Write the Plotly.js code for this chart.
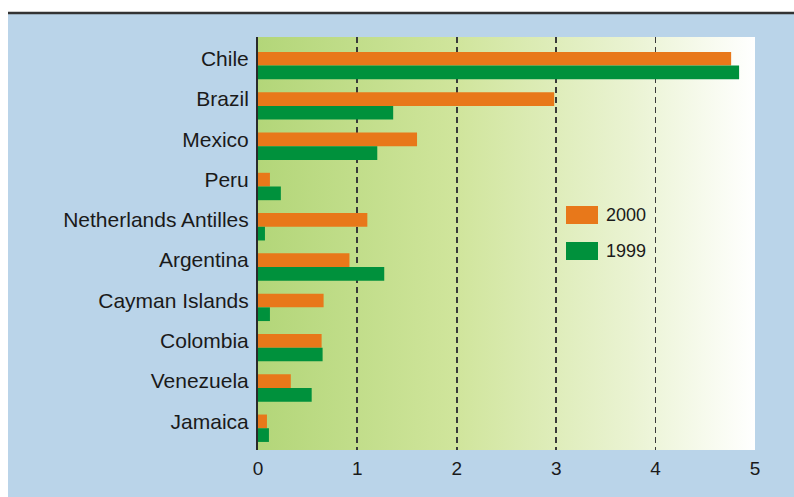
<!DOCTYPE html>
<html><head><meta charset="utf-8">
<script src="https://cdn.plot.ly/plotly-3.0.1.min.js"></script>
<style>html,body{margin:0;padding:0;background:#fff}#chart{width:794px;height:497px}</style>
</head><body><div id="chart"></div>
<script>
const countries = ['Chile','Brazil','Mexico','Peru','Netherlands Antilles','Argentina','Cayman Islands','Colombia','Venezuela','Jamaica'];
const values2000 = [4.76,2.98,1.6,0.12,1.1,0.92,0.66,0.64,0.33,0.09];
const values1999 = [4.84,1.36,1.2,0.23,0.07,1.27,0.12,0.65,0.54,0.11];
const seriesNames = ['2000','1999'];
const seriesColors = ['#e8781a','#00913c'];
const xTicks = [0,1,2,3,4,5];

const W=794,H=497,L=258,R=39,T=37,B=47;
const pw=W-L-R, ph=H-T-B;
const px = x => (x-L)/pw;
const py = y => (H-B-y)/ph;
const FONT = '"Liberation Sans", Arial, sans-serif';

const gradSvg = '<svg xmlns="http://www.w3.org/2000/svg" width="100" height="10" preserveAspectRatio="none"><defs><linearGradient id="g" x1="0" y1="0" x2="1" y2="0"><stop offset="0" stop-color="#b3d679"/><stop offset="0.4" stop-color="#d0e59c"/><stop offset="0.75" stop-color="#eaf3d2"/><stop offset="1" stop-color="#ffffff"/></linearGradient></defs><rect width="100" height="10" fill="url(#g)"/></svg>';
const grad = 'data:image/svg+xml;charset=utf-8,' + encodeURIComponent(gradSvg);

const seriesValues = [values2000, values1999];
const traces = seriesNames.map((n,i)=>({
  type:'bar', orientation:'h', name:n, y:countries, x:seriesValues[i],
  marker:{color:seriesColors[i], line:{width:0}}, showlegend:false, hoverinfo:'skip'
}));

const shapes = [
  {type:'rect', xref:'paper', yref:'paper', x0:px(0), x1:px(W), y0:py(13), y1:py(0), fillcolor:'#ffffff', line:{width:0}, layer:'below'},
  {type:'rect', xref:'paper', yref:'paper', x0:px(0), x1:px(8), y0:py(H), y1:py(0), fillcolor:'#ffffff', line:{width:0}, layer:'below'},
  {type:'line', xref:'paper', yref:'paper', x0:px(8), x1:px(W), y0:py(13), y1:py(13), line:{color:'#333333', width:2.5}}
];
const annotations = [];
const legY = [[206,224],[242,260]];
seriesNames.forEach((n,i)=>{
  shapes.push({type:'rect', xref:'paper', yref:'paper', x0:px(566), x1:px(598), y0:py(legY[i][1]), y1:py(legY[i][0]), fillcolor:seriesColors[i], line:{width:0}});
  annotations.push({xref:'paper', yref:'paper', x:px(604), y:py((legY[i][0]+legY[i][1])/2), xanchor:'left', yanchor:'middle', showarrow:false, text:n, font:{family:FONT, size:18, color:'#1a1a1a'}});
});

const layout = {
  width:W, height:H, margin:{l:L, r:R, t:T, b:B, pad:0},
  paper_bgcolor:'#bad4e9', plot_bgcolor:'rgba(0,0,0,0)',
  barmode:'group', bargap:0.32, bargroupgap:0,
  showlegend:false,
  xaxis:{range:[0,5], tickvals:xTicks, ticktext:xTicks.map(String), showgrid:true, gridcolor:'#3a3a3a', griddash:'6px,4px', gridwidth:1.8,
    zeroline:false, showline:false, ticks:'', ticklabelstandoff:5, tickfont:{family:FONT, size:19, color:'#1a1a1a'}, fixedrange:true},
  yaxis:{type:'category', categoryorder:'array', categoryarray:countries, range:[9.54,-0.71], showgrid:false, zeroline:false,
    showline:true, linecolor:'#2a2a2a', linewidth:2, ticks:'', ticklabelstandoff:3, ticklabelshift:7,
    tickfont:{family:FONT, size:21, color:'#1a1a1a'}, fixedrange:true},
  images:[{source:grad, xref:'paper', yref:'paper', x:0, y:1, sizex:1, sizey:1, sizing:'stretch', xanchor:'left', yanchor:'top', layer:'below'}],
  shapes:shapes, annotations:annotations
};
Plotly.newPlot('chart', traces, layout, {displayModeBar:false, staticPlot:true});
</script>
</body></html>
